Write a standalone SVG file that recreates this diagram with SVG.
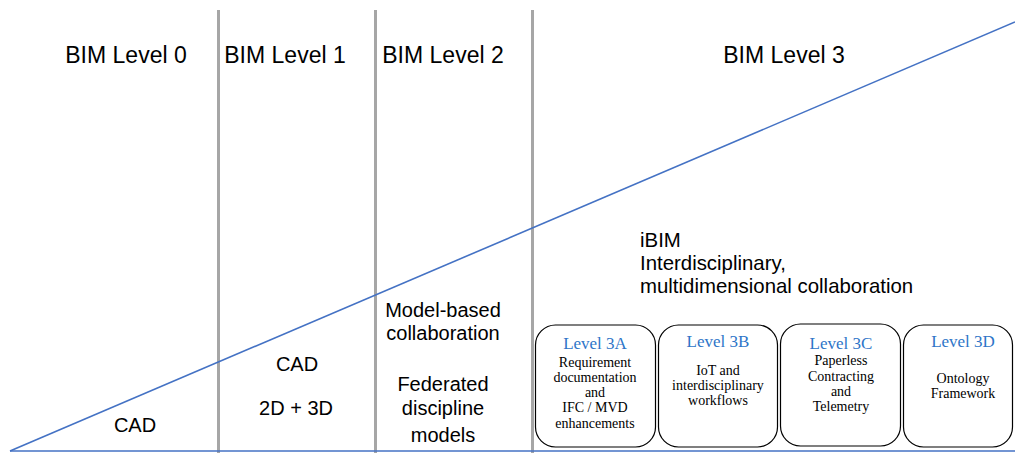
<svg xmlns="http://www.w3.org/2000/svg" width="1015" height="453" viewBox="0 0 1015 453">
<style>
.sep{stroke:#a6a6a6;stroke-width:3;fill:none}
.blue{stroke:#4472c4;stroke-width:1.6;fill:none}
.hd{font-family:"Liberation Sans",Arial,sans-serif;font-size:23px;fill:#000;text-anchor:middle}
.tx{font-family:"Liberation Sans",Arial,sans-serif;font-size:20px;fill:#000;text-anchor:middle}
.txl{font-family:"Liberation Sans",Arial,sans-serif;font-size:20.4px;fill:#000}
.box{fill:#fff;stroke:#000;stroke-width:1.2}
.bt{font-family:"Liberation Serif","Times New Roman",serif;font-size:17px;fill:#2e75c8;text-anchor:middle}
.bb{font-family:"Liberation Serif","Times New Roman",serif;font-size:14px;fill:#000;text-anchor:middle}
</style>
<rect width="1015" height="453" fill="#fff"/>
<g id="connectors">
<line class="sep" x1="218.5" y1="10" x2="218.5" y2="453"/>
<line class="sep" x1="375.5" y1="10" x2="375.5" y2="453"/>
<line class="sep" x1="532.5" y1="10" x2="532.5" y2="453"/>
<line class="blue" x1="10" y1="451" x2="1015" y2="451" stroke-width="2"/>
<line class="blue" x1="10" y1="451" x2="1015" y2="22"/>
</g>
<g id="headers">
<text class="hd" x="126" y="63">BIM Level 0</text>
<text class="hd" x="285" y="63">BIM Level 1</text>
<text class="hd" x="443" y="63">BIM Level 2</text>
<text class="hd" x="784" y="63">BIM Level 3</text>
</g>
<g id="level0"><text class="tx" x="135" y="432">CAD</text></g>
<g id="level1">
<text class="tx" x="297" y="371">CAD</text>
<text class="tx" x="296" y="415">2D + 3D</text>
</g>
<g id="level2">
<text class="tx" x="443" y="317">Model-based</text>
<text class="tx" x="443" y="340">collaboration</text>
<text class="tx" x="443" y="391">Federated</text>
<text class="tx" x="443" y="415">discipline</text>
<text class="tx" x="443" y="442">models</text>
</g>
<g id="level3">
<text class="txl" x="640" y="247">iBIM</text>
<text class="txl" x="640" y="270">Interdisciplinary,</text>
<text class="txl" x="640" y="293">multidimensional collaboration</text>
</g>
<g id="box3A">
<rect class="box" x="535.5" y="325" width="120" height="122" rx="20"/>
<text class="bt" x="595" y="349">Level 3A</text>
<text class="bb" x="595" y="367">Requirement</text>
<text class="bb" x="595" y="382">documentation</text>
<text class="bb" x="595" y="397">and</text>
<text class="bb" x="595" y="412">IFC / MVD</text>
<text class="bb" x="595" y="428">enhancements</text>
</g>
<g id="box3B">
<rect class="box" x="658.5" y="325" width="119" height="122" rx="20"/>
<text class="bt" x="718" y="347">Level 3B</text>
<text class="bb" x="718" y="375">IoT and</text>
<text class="bb" x="718" y="390">interdisciplinary</text>
<text class="bb" x="718" y="405">workflows</text>
</g>
<g id="box3C">
<rect class="box" x="780.5" y="324" width="120" height="122" rx="20"/>
<text class="bt" x="841" y="349">Level 3C</text>
<text class="bb" x="841" y="365">Paperless</text>
<text class="bb" x="841" y="381">Contracting</text>
<text class="bb" x="841" y="396">and</text>
<text class="bb" x="841" y="411">Telemetry</text>
</g>
<g id="box3D">
<rect class="box" x="903.5" y="325" width="109" height="122" rx="20"/>
<text class="bt" x="963" y="347">Level 3D</text>
<text class="bb" x="963" y="383">Ontology</text>
<text class="bb" x="963" y="398">Framework</text>
</g>
</svg>
